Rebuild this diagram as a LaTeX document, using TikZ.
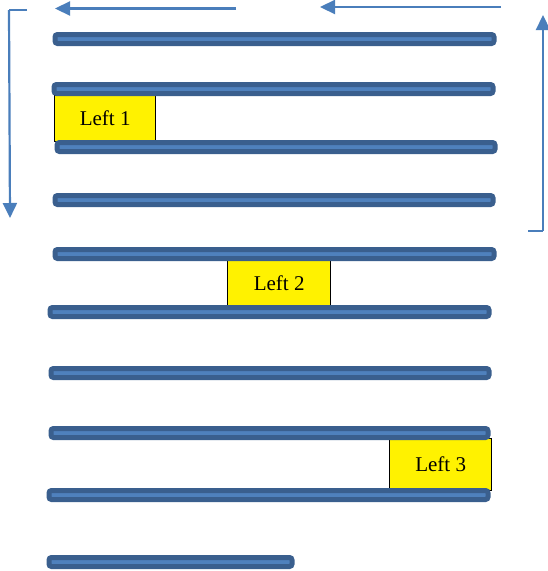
\documentclass[tikz,border=0pt]{standalone}
\usepackage{fontspec}
\setmainfont{Liberation Serif}
\usetikzlibrary{arrows.meta}
\definecolor{bardark}{HTML}{3A5F8E}
\definecolor{barlight}{HTML}{4F81BD}
\definecolor{arrowblue}{HTML}{4A7EBB}
\tikzset{
  bar/.style={draw=bardark, fill=barlight, line width=5pt, rounded corners=2.5pt},
  leftbox/.style={draw=black, fill=yellow, line width=1.3pt, inner sep=0pt, font=\fontsize{21}{23}\selectfont},
  flow/.style={draw=arrowblue, line width=2.2pt, -{Triangle[length=15pt,width=14pt]}},
  flowline/.style={draw=arrowblue, line width=2.2pt}
}
\begin{document}
\begin{tikzpicture}[x=1pt,y=-1pt]
\useasboundingbox (0,0) rectangle (547,571);
% yellow boxes (under bars)
\node[leftbox, minimum width=101pt, minimum height=46pt, anchor=north west] (l1) at (54,95) {Left 1};
\node[leftbox, minimum width=103pt, minimum height=48pt, anchor=north west] (l2) at (227,259) {Left 2};
\node[leftbox, minimum width=102pt, minimum height=52pt, anchor=north west] (l3) at (389,438) {Left 3};
% bars
\path[bar] (55,34.5) rectangle (494,43.5);
\path[bar] (54,84.5) rectangle (493,93.5);
\path[bar] (57,142.5) rectangle (495,151.5);
\path[bar] (55,195.5) rectangle (493,204.5);
\path[bar] (55,249.5) rectangle (494,258.5);
\path[bar] (50,307.5) rectangle (489,316.5);
\path[bar] (51,368.5) rectangle (489,377.5);
\path[bar] (51,428.5) rectangle (488,437.5);
\path[bar] (49,490.5) rectangle (488,499.5);
\path[bar] (49,557.5) rectangle (292,566.5);
% arrows
\coordinate (a1s) at (236,8.5);
\coordinate (a1e) at (55,8.5);
\draw[flow] (a1s) -- (a1e);
\coordinate (a2s) at (501,7);
\coordinate (a2e) at (320,7);
\draw[flow] (a2s) -- (a2e);
\coordinate (lb0) at (27,10);
\coordinate (lb1) at (9,10);
\coordinate (lb2) at (10,218);
\draw[flowline] (lb0) -- (lb1);
\draw[flow] (lb1) -- (lb2);
\coordinate (rb0) at (528,231);
\coordinate (rb1) at (543,231);
\coordinate (rb2) at (543,15);
\draw[flowline] (rb0) -- (rb1);
\draw[flow] (rb1) -- (rb2);
\end{tikzpicture}
\end{document}
